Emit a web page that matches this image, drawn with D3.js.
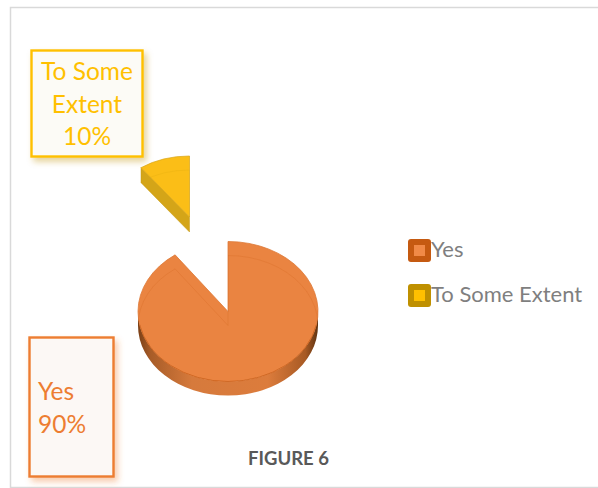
<!DOCTYPE html>
<html>
<head>
<meta charset="utf-8">
<script src="https://cdn.jsdelivr.net/npm/d3@7"></script>
<style>
html,body{margin:0;padding:0;background:#fff}
svg{display:block}
text{font-family:Lato,"Open Sans",sans-serif}
</style>
</head>
<body>
<svg id="chart" width="598" height="488"></svg>
<script>
// Survey responses
const categories = ["Yes", "To Some Extent"];
const values = [90, 10];
const percentLabels = ["90%", "10%"];
const chartTitle = "FIGURE 6";

const topColors = ["#EA8441", "#FBBE17"];
const edgeColors = ["#C55A11", "#BF9000"];
const legendInner = ["#F08A47", "#FFC000"];
const boxStroke = ["#ED7D31", "#FFC000"];
const boxFill = ["#FCF8F5", "#FCFBF6"];

const svg = d3.select("#chart");
const defs = svg.append("defs");

// Soft shadow under the callout boxes
["#ED7D31", "#BF9000"].forEach((c, i) => {
  defs.append("filter").attr("id", "boxShadow" + i)
    .attr("x", "-20%").attr("y", "-20%").attr("width", "150%").attr("height", "150%")
    .append("feDropShadow")
    .attr("dx", 3).attr("dy", 4).attr("stdDeviation", 3)
    .attr("flood-color", c).attr("flood-opacity", 0.4);
});

// Shading along the rim of the large slice
const rim = defs.append("linearGradient").attr("id", "rimYes")
  .attr("x1", 0).attr("x2", 1).attr("y1", 0).attr("y2", 0);
[[0, "#7A3F16"], [0.07, "#A85C28"], [0.3, "#D67A3C"], [0.72, "#DC7C3C"], [0.93, "#A85A24"], [1, "#5E3210"]]
  .forEach(([o, c]) => rim.append("stop").attr("offset", o).attr("stop-color", c));

// Chart frame
svg.append("path")
  .attr("d", "M598,7.5H10.5V487.5H598")
  .attr("fill", "none").attr("stroke", "#D9D9D9").attr("stroke-width", 1.5);

const arcs = d3.pie().sort(null).value(d => d)(values);

// Point on a tilted circle for an angle measured clockwise from twelve o'clock
const pt = (g, a, dy = 0) => [g.cx + g.rx * Math.sin(a), g.cy - g.ry * Math.cos(a) + dy];
const ell = (g, a0, a1, dy = 0) => {
  const [x, y] = pt(g, a1, dy);
  return `A${g.rx},${g.ry} 0 ${a1 - a0 > Math.PI ? 1 : 0} 1 ${x},${y}`;
};
const sliceOutline = (g, a0, a1, dy = 0) => {
  const [sx, sy] = pt(g, a0, dy);
  return `M${g.cx},${g.cy + dy}L${sx},${sy}${ell(g, a0, a1, dy)}Z`;
};

const depth = 14;
const gYes = { cx: 228, cy: 311.5, rx: 90, ry: 70 };
const gSome = { cx: 189.5, cy: 217, rx: 82.5, ry: 61 };

// Large slice: rim, top face, then the far edge showing faintly through the top
{
  const a = arcs[0];
  const [lx, ly] = pt(gYes, Math.PI / 2);
  const [rx, ry] = pt(gYes, 3 * Math.PI / 2);
  const g = svg.append("g");
  const rimPath = `M${lx},${ly}` + ell(gYes, Math.PI / 2, 3 * Math.PI / 2)
    + `L${rx},${ry + depth}`
    + `A${gYes.rx},${gYes.ry} 0 0 0 ${lx},${ly + depth}Z`;
  g.append("path").attr("d", rimPath).attr("fill", "url(#rimYes)");
  g.append("path").attr("d", sliceOutline(gYes, a.startAngle, a.endAngle))
    .attr("fill", topColors[0]).attr("stroke", "#DD7A39").attr("stroke-width", 0.8);
  defs.append("clipPath").attr("id", "clipYes").append("path")
    .attr("d", sliceOutline(gYes, a.startAngle, a.endAngle));
  g.append("path").attr("d", sliceOutline(gYes, a.startAngle, a.endAngle, depth))
    .attr("clip-path", "url(#clipYes)")
    .attr("fill", "none").attr("stroke", edgeColors[0]).attr("stroke-opacity", 0.18).attr("stroke-width", 1);
  const [fx, fy] = pt(gYes, Math.PI * 0.56);
  g.append("path")
    .attr("d", `M${fx},${fy}` + ell(gYes, Math.PI * 0.56, Math.PI * 1.44))
    .attr("fill", "none").attr("stroke", edgeColors[0]).attr("stroke-width", 0.9).attr("stroke-opacity", 0.7);
}

// Small slice, pulled away from the pie
{
  const a = arcs[1];
  const [lx, ly] = pt(gSome, a.startAngle);
  const g = svg.append("g");
  g.append("path")
    .attr("d", `M${lx},${ly}L${gSome.cx},${gSome.cy}L${gSome.cx},${gSome.cy + depth + 1}L${lx},${ly + depth + 1}Z`)
    .attr("fill", "#D4A518").attr("stroke", "#C79A14").attr("stroke-width", 0.5);
  g.append("path").attr("d", sliceOutline(gSome, a.startAngle, a.endAngle))
    .attr("fill", topColors[1]).attr("stroke", "#D9A516").attr("stroke-width", 0.7);
  defs.append("clipPath").attr("id", "clipSome").append("path")
    .attr("d", sliceOutline(gSome, a.startAngle, a.endAngle));
  g.append("path").attr("d", sliceOutline(gSome, a.startAngle, a.endAngle, depth))
    .attr("clip-path", "url(#clipSome)")
    .attr("fill", "none").attr("stroke", edgeColors[1]).attr("stroke-opacity", 0.12);
}

// Callout boxes
const callouts = [
  { i: 1, x: 31.5, y: 50.5, w: 111, h: 106, anchor: "middle", tx: 87, lines: ["To Some", "Extent", percentLabels[1]], first: 80 },
  { i: 0, x: 29.5, y: 337.5, w: 84, h: 139, anchor: "start", tx: 38, lines: [categories[0], percentLabels[0]], first: 400 }
];
callouts.forEach(c => {
  svg.append("rect")
    .attr("x", c.x).attr("y", c.y).attr("width", c.w).attr("height", c.h)
    .attr("fill", boxFill[c.i]).attr("stroke", boxStroke[c.i]).attr("stroke-width", 2.4)
    .attr("filter", `url(#boxShadow${c.i})`);
  c.lines.forEach((t, k) => {
    svg.append("text")
      .attr("x", c.tx).attr("y", c.first + k * 32.5)
      .attr("text-anchor", c.anchor)
      .attr("font-size", 24.5)
      .attr("fill", boxStroke[c.i])
      .text(t);
  });
});

// Legend
const legend = svg.selectAll("g.legend").data(categories).join("g")
  .attr("class", "legend")
  .attr("transform", (d, i) => `translate(408,${239 + i * 45})`);
legend.append("rect").attr("width", 23).attr("height", 23).attr("rx", 3)
  .attr("fill", (d, i) => edgeColors[i]);
legend.append("rect").attr("x", 6).attr("y", 6).attr("width", 11).attr("height", 11)
  .attr("fill", (d, i) => legendInner[i]);
legend.append("text").attr("x", 23).attr("y", 18)
  .attr("font-size", 22).attr("fill", "#7F7F7F")
  .text(d => d);

// Title
svg.append("text").attr("x", 288.5).attr("y", 465)
  .attr("text-anchor", "middle")
  .attr("font-size", 18.5).attr("font-weight", 700).attr("fill", "#595959")
  .text(chartTitle);
</script>
</body>
</html>
